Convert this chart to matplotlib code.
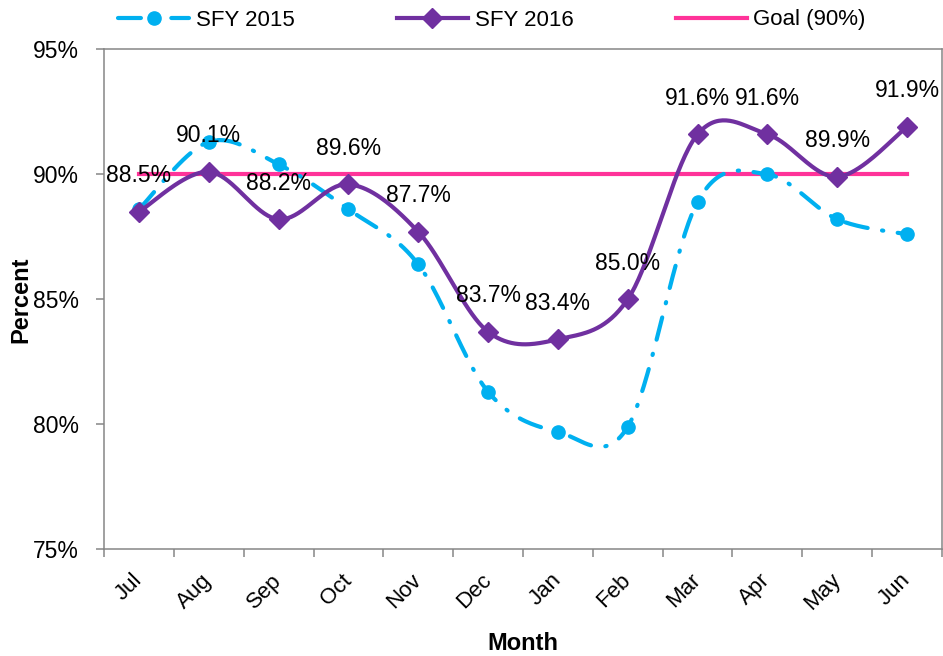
import numpy as np
import matplotlib
matplotlib.use("Agg")
import matplotlib.pyplot as plt
from matplotlib.lines import Line2D

plt.rcParams['font.family'] = ['Liberation Sans', 'DejaVu Sans']

# data
months = ["Jul", "Aug", "Sep", "Oct", "Nov", "Dec", "Jan", "Feb", "Mar", "Apr", "May", "Jun"]
sfy2015 = [88.6, 91.3, 90.4, 88.6, 86.4, 81.3, 79.7, 79.9, 88.9, 90.0, 88.2, 87.6]
sfy2016 = [88.5, 90.1, 88.2, 89.6, 87.7, 83.7, 83.4, 85.0, 91.6, 91.6, 89.9, 91.9]
goal = 90.0

C15 = "#00B0F0"
C16 = "#7030A0"
CGOAL = "#FF3399"
GRAY = "#868686"


def smooth(x, y, n=40):
    # excel-like smoothed line (bezier, control points at 1/6 of neighbour chord)
    pts = np.column_stack([x, y]).astype(float)
    P = np.vstack([pts[0], pts, pts[-1]])
    out = []
    t = np.linspace(0, 1, n)[:, None]
    for i in range(len(pts) - 1):
        p0, p1 = pts[i], pts[i + 1]
        c1 = p0 + (P[i + 2] - P[i]) / 6
        c2 = p1 - (P[i + 3] - P[i + 1]) / 6
        seg = (1 - t) ** 3 * p0 + 3 * (1 - t) ** 2 * t * c1 + 3 * (1 - t) * t ** 2 * c2 + t ** 3 * p1
        out.append(seg if i == 0 else seg[1:])
    out = np.vstack(out)
    return out[:, 0], out[:, 1]


x = np.arange(len(months))

fig = plt.figure(figsize=(9.43, 6.56), dpi=100)
ax = fig.add_axes([104 / 943, 1 - 549.3 / 656, (942 - 104) / 943, 500 / 656])

dash15 = (5.5, 3.5, 0.3, 3.5)

# goal
ax.plot([x[0], x[-1]], [goal, goal], color=CGOAL, lw=3, zorder=2)

# SFY 2015
sx, sy = smooth(x, sfy2015)
ax.plot(sx, sy, color=C15, lw=3, dashes=dash15, dash_capstyle='round', zorder=3)
ax.plot(x, sfy2015, 'o', color=C15, ms=9.5, zorder=3)

# SFY 2016
sx, sy = smooth(x, sfy2016)
ax.plot(sx, sy, color=C16, lw=3, zorder=4)
ax.plot(x, sfy2016, 'D', color=C16, ms=10, zorder=4)

for xi, v in zip(x, sfy2016):
    ax.annotate(f"{v:.1f}%", (xi, v), xytext=(0, 36), textcoords='offset pixels',
                ha='center', va='center', fontsize=16.5,
                family=['Liberation Sans Narrow', 'Liberation Sans', 'DejaVu Sans'], zorder=5)

ax.set_xlim(-0.5, len(months) - 0.5)
ax.set_ylim(75, 95)
ax.set_yticks([75, 80, 85, 90, 95])
ax.set_yticklabels([f"{v}%" for v in [75, 80, 85, 90, 95]])
ax.set_xticks(np.arange(-0.5, len(months), 1))
ax.set_xticklabels([])
ax.set_xticks(x, minor=True)
ax.set_xticklabels(months, minor=True, rotation=45, ha='right', va='center',
                   rotation_mode='anchor')
ax.tick_params(axis='x', which='major', length=6, width=1.1, color=GRAY, direction='out')
ax.tick_params(axis='x', which='minor', length=0, pad=20, labelsize=16)
ax.tick_params(axis='y', length=6, width=1.1, color=GRAY, direction='out', pad=12, labelsize=16.5)

for s in ax.spines.values():
    s.set_color(GRAY)
    s.set_linewidth(1.1)

ax.set_xlabel("Month", fontsize=17, fontweight='bold')
ax.set_ylabel("Percent", fontsize=17, fontweight='bold')
ax.xaxis.set_label_coords(0.5, (549.3 - 643) / 500)
ax.xaxis.label.set_va('center')
ax.yaxis.set_label_coords((21 - 104) / 838, 0.5)
ax.yaxis.label.set_va('center')

handles = [
    Line2D([], [], color=C15, lw=3, dashes=dash15, dash_capstyle='round', marker='o', ms=9.5),
    Line2D([], [], color=C16, lw=3, marker='D', ms=10),
    Line2D([], [], color=CGOAL, lw=3),
]
fig.legend(handles, ["SFY 2015", "SFY 2016", "Goal (90%)"], loc='center left',
           bbox_to_anchor=(118 / 943, 1 - 20 / 656), ncol=3, frameon=False, fontsize=16,
           borderpad=0, borderaxespad=0, handlelength=3.2, handletextpad=0.3,
           columnspacing=4.6)

fig.savefig("out.png", dpi=100)
